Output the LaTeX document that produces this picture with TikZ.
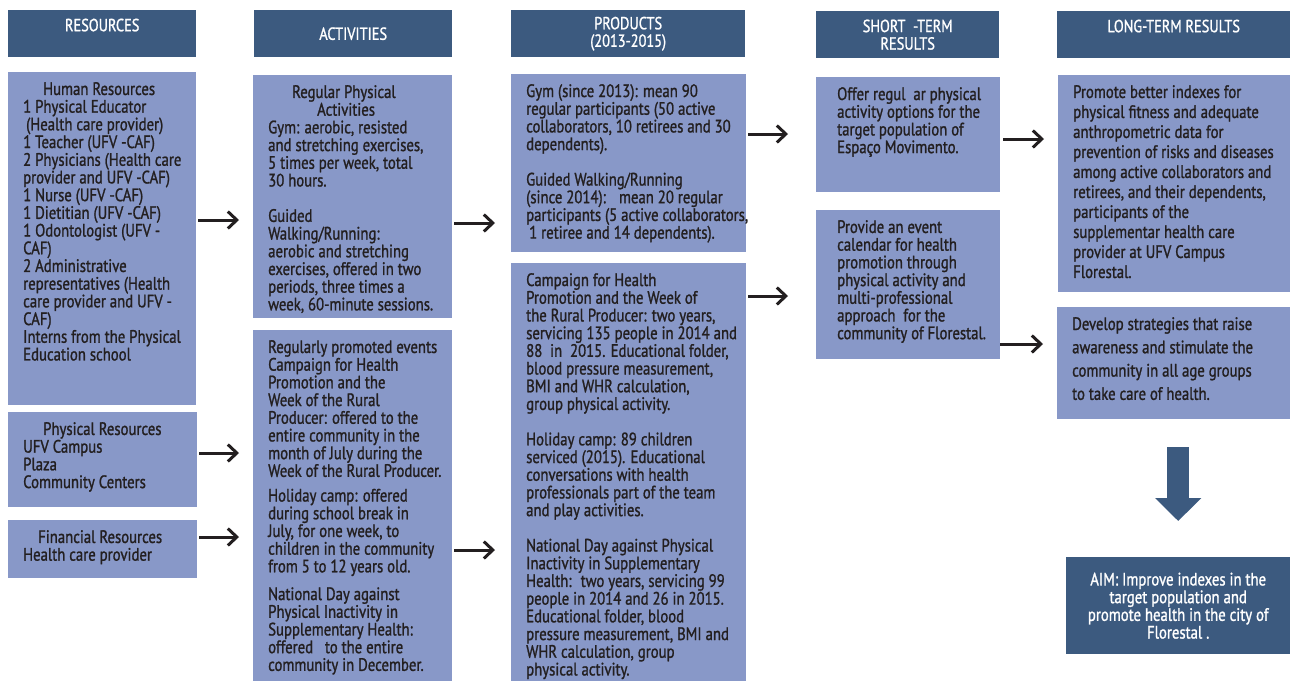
\documentclass[tikz,border=0pt]{standalone}
\usepackage{fontspec}
\setmainfont{PT Sans}[FakeStretch=0.82,FakeBold=1.2]
\usetikzlibrary{arrows.meta}

\definecolor{headblue}{RGB}{60,90,127}
\definecolor{cellblue}{RGB}{136,152,200}
\definecolor{inkdark}{RGB}{35,31,32}

\newcommand{\cellfont}{\fontsize{18}{17.7}\selectfont}
\newcommand{\headfont}{\fontsize{17.5}{17.5}\selectfont}
% lines of a box, set from its top, never rewrapped
\newcommand{\boxtext}[3]{\parbox[c][#2][t]{#1}{\raggedright\rightskip=-200pt plus 1fil
    \lineskiplimit=-50pt #3}}

\begin{document}
\begin{tikzpicture}[x=1pt,y=-1pt,>={Straight Barb[length=9pt,width=17pt]},
    head/.style={fill=headblue,text=white,font=\headfont,anchor=north west,inner sep=0pt,align=center},
    cell/.style={fill=cellblue,text=inkdark,font=\cellfont,anchor=north west,inner xsep=15pt,inner ysep=10pt},
    flow/.style={->,line width=3pt,draw=inkdark,shorten <=2pt},
    bigflow/.style={-{Triangle[length=23pt,width=45pt]},line width=22pt,draw=headblue}]
    \useasboundingbox (0,0) rectangle (1290,681);
    % column heads
    \node[head,minimum width=188pt,minimum height=47pt] (hres) at (8,10) {RESOURCES\\};
    \node[head,minimum width=198pt,minimum height=47pt] (hact) at (254,10) {ACTIVITIES};
    \node[head,minimum width=234pt,minimum height=47pt] (hprod) at (511,10) {PRODUCTS\\(2013-2015)};
    \node[head,minimum width=183pt,minimum height=47pt] (hshort) at (816,11) {SHORT\ \ -TERM\\RESULTS};
    \node[head,minimum width=233pt,minimum height=47pt] (hlong) at (1057,11) {LONG-TERM RESULTS\\};
    % resources
    \node[cell] (hr) at (8,72) {\boxtext{158pt}{313pt}{\hspace*{20pt}Human Resources\\
        1 Physical Educator\\ \hspace*{3pt}(Health care provider)\\ 1 Teacher (UFV -CAF)\\
        2 Physicians (Health care\\ provider and UFV -CAF)\\ 1 Nurse (UFV -CAF)\\
        1 Dietitian (UFV -CAF)\\ 1 Odontologist (UFV -\\ CAF)\\ 2 Administrative\\
        representatives (Health\\ care provider and UFV -\\ CAF)\\
        Interns from the Physical\\ Education school}};
    \node[cell] (phys) at (8,412) {\boxtext{159pt}{75pt}{\hspace*{20pt}Physical Resources\\
        UFV Campus\\ Plaza\\ Community Centers}};
    \node[cell] (fin) at (8,520) {\boxtext{159pt}{38pt}{\hspace*{15pt}Financial Resources\\
        Health care provider}};
    % activities
    \node[cell] (act) at (253,75) {\boxtext{169pt}{223pt}{\hspace*{24pt}Regular Physical\\
        \hspace*{49pt}Activities\\ Gym: aerobic, resisted\\ and stretching exercises,\\
        5 times per week, total\\ 30 hours.\\[\baselineskip] Guided\\ Walking/Running:\\
        aerobic and stretching\\ exercises, offered in two\\ periods, three times a\\
        week, 60-minute sessions.}};
    \node[cell] (ev) at (253,330) {\boxtext{169pt}{331pt}{Regularly promoted events\\
        Campaign for Health\\ Promotion and the\\ Week of the Rural\\
        Producer: offered to the\\ entire community in the\\ month of July during the\\
        Week of the Rural Producer.\\[7pt] Holiday camp: offered\\ during school break in\\
        July, for one week, to\\ children in the community\\ from 5 to 12 years old.\\[10pt]
        National Day against\\ Physical Inactivity in\\ Supplementary Health:\\
        offered \ \ to the entire\\ community in December.}};
    % products
    \node[cell] (gym) at (511,74) {\boxtext{205pt}{158pt}{Gym (since 2013): mean 90\\
        regular participants (50 active\\ collaborators, 10 retirees and 30\\
        dependents).\\[\baselineskip]
        Guided Walking/Running\\ (since 2014): \ \ mean 20 regular\\
        participants (5 active collaborators,\\ \hspace*{3pt}1 retiree and 14 dependents).}};
    \node[cell] (camp) at (511,263) {\boxtext{205pt}{398pt}{Campaign for Health\\
        Promotion and the Week of\\ the Rural Producer: two years,\\
        servicing 135 people in 2014 and\\ 88 \ in \ 2015. Educational folder,\\
        blood pressure measurement,\\ BMI and WHR calculation,\\
        group physical activity.\\[\baselineskip]
        Holiday camp: 89 children\\ serviced (2015). Educational\\ conversations with health\\
        professionals part of the team\\ and play activities.\\[\baselineskip]
        National Day against Physical\\ Inactivity in Supplementary\\
        Health: \ two years, servicing 99\\ people in 2014 and 26 in 2015.\\
        Educational folder, blood\\ pressure measurement, BMI and\\
        WHR calculation, group\\ physical activity.}};
    % short-term results
    \node[cell,inner xsep=21pt] (offer) at (816,77) {\boxtext{142pt}{95pt}{Offer regul \ ar physical\\
        activity options for the\\ target population of\\ Espaço Movimento.}};
    \node[cell,inner xsep=21pt] (prov) at (816,210) {\boxtext{142pt}{129pt}{Provide an event\\
        calendar for health\\ promotion through\\ physical activity and\\ multi-professional\\
        approach \ for the\\ community of Florestal.}};
    % long-term results
    \node[cell,font=\fontsize{18}{20}\selectfont] (prom) at (1058,75) {\boxtext{202pt}{197pt}{%
        Promote better indexes for\\ physical fitness and adequate\\ anthropometric data for\\
        prevention of risks and diseases\\ among active collaborators and\\
        retirees, and their dependents,\\ participants of the\\ supplementar health care\\
        provider at UFV Campus\\ Florestal.}};
    \node[cell,font=\fontsize{18}{23.3}\selectfont] (dev) at (1057,307) {\boxtext{203pt}{92pt}{%
        Develop strategies that raise\\ awareness and stimulate the\\
        community in all age groups\\ to take care of health.}};
    \node[head,font=\cellfont,minimum width=224pt,minimum height=97pt] (aim) at (1066,557)
        {AIM: Improve indexes in the\\ target population and\\ promote health in the city of\\ Florestal .};
    % connectors
    \draw[flow,shorten >=14pt] (hr.east |- 0,220) -- (act.west |- 0,220);
    \draw[flow,shorten >=14pt] (phys.east |- 0,453) -- (ev.west |- 0,453);
    \draw[flow,shorten >=14pt] (fin.east |- 0,537) -- (ev.west |- 0,537);
    \draw[flow,shorten >=16pt] (act.east |- 0,223) -- (gym.west |- 0,223);
    \draw[flow,shorten >=16pt] (ev.east |- 0,550) -- (camp.west |- 0,550);
    \draw[flow,shorten >=28pt] (gym.east |- 0,134) -- (offer.west |- 0,134);
    \draw[flow,shorten >=28pt] (camp.east |- 0,296) -- (prov.west |- 0,296);
    \draw[flow,shorten <=3pt,shorten >=14pt] (offer.east |- 0,139) -- (prom.west |- 0,139);
    \draw[flow,shorten <=0pt,shorten >=14pt] (prov.east |- 0,344) -- (dev.west |- 0,344);
    \draw[bigflow,shorten <=28pt,shorten >=36pt] (dev.south -| aim.north) -- (aim.north);
\end{tikzpicture}
\end{document}
